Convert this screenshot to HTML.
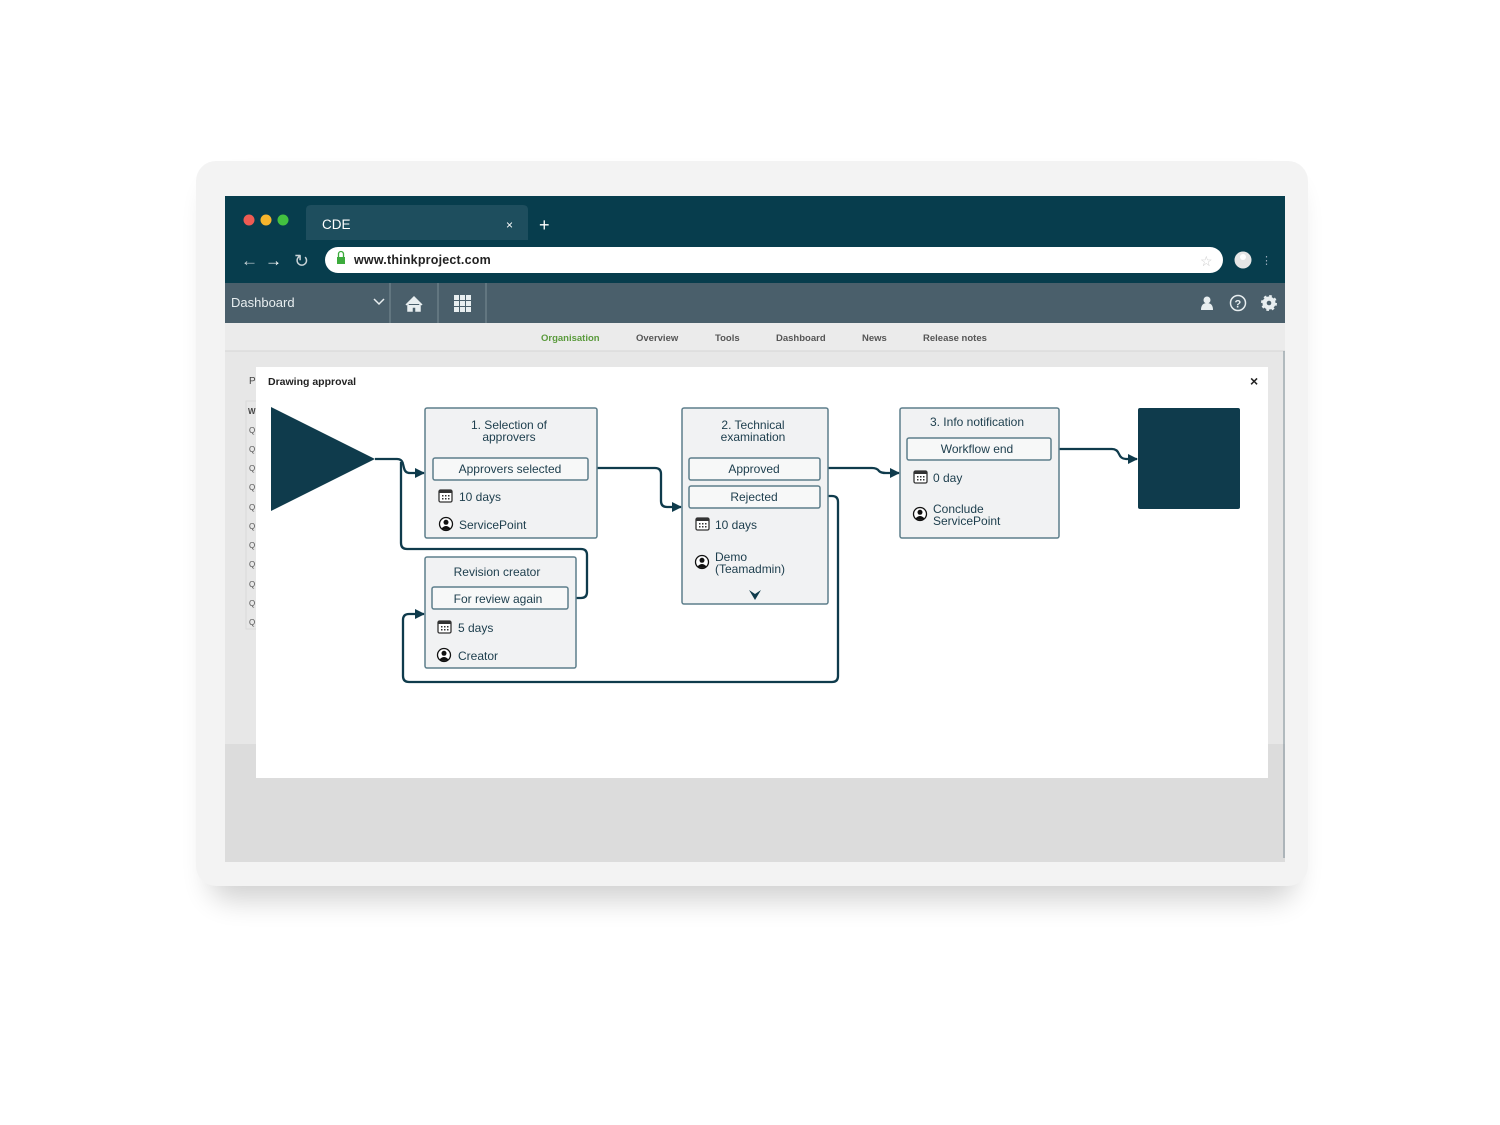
<!DOCTYPE html>
<html><head><meta charset="utf-8"><style>
html,body{margin:0;padding:0;background:#fff;width:1500px;height:1125px;overflow:hidden}
svg{display:block}
text{font-family:"Liberation Sans",sans-serif}
</style></head><body>
<svg width="1500" height="1125" viewBox="0 0 1500 1125" xmlns="http://www.w3.org/2000/svg">
<defs>
<filter id="sh" x="-10%" y="-10%" width="120%" height="130%"><feGaussianBlur stdDeviation="14"/></filter>
<marker id="ar" markerWidth="10" markerHeight="10" refX="9" refY="5" orient="auto" markerUnits="userSpaceOnUse"><path d="M0,0 L10,5 L0,10 Z" fill="#0f3b4c"/></marker>
<g id="cal"><rect x="0" y="0" width="13" height="12" rx="1.5" fill="#fff" stroke="#333" stroke-width="1.3"/><rect x="0" y="0" width="13" height="3" fill="#333"/><g fill="#333"><rect x="3" y="5" width="1.5" height="1.5"/><rect x="6" y="5" width="1.5" height="1.5"/><rect x="9" y="5" width="1.5" height="1.5"/><rect x="3" y="8" width="1.5" height="1.5"/><rect x="6" y="8" width="1.5" height="1.5"/><rect x="9" y="8" width="1.5" height="1.5"/></g></g>
<g id="usr"><circle cx="7" cy="7" r="6.5" fill="#fff" stroke="#111" stroke-width="1.3"/><circle cx="7" cy="5.3" r="2.5" fill="#111"/><path d="M2.5,11.5 Q7,6.5 11.5,11.5 Q7,14.5 2.5,11.5Z" fill="#111"/></g>
</defs>
<!-- outer frame -->
<rect x="210" y="185" width="1085" height="715" rx="20" fill="#000" opacity="0.18" filter="url(#sh)"/>
<rect x="196" y="161" width="1112" height="725" rx="20" fill="#f3f3f3"/>
<!-- browser -->
<rect x="225" y="196" width="1060" height="666" fill="#e7e7e7"/>
<rect x="225" y="744" width="1060" height="118" fill="#dcdcdc"/>
<rect x="225" y="196" width="1060" height="87" fill="#073d4d"/>
<circle cx="249" cy="220" r="5.5" fill="#ee5b53"/><circle cx="266" cy="220" r="5.5" fill="#f5b52c"/><circle cx="283" cy="220" r="5.5" fill="#43c140"/>
<path d="M306,240 V210 Q306,205 311,205 H523 Q528,205 528,210 V240 Z" fill="#1e4e5e"/>
<text x="322" y="229" font-size="13.5" fill="#fff">CDE</text>
<text x="506" y="229" font-size="12" fill="#fff">×</text>
<text x="539" y="231" font-size="18" fill="#fff">+</text>
<text x="241" y="266" font-size="17" fill="#c9d4d8">←</text><text x="265" y="266" font-size="17" fill="#fff">→</text>
<text x="294" y="267" font-size="18" fill="#c9d4d8">↻</text>
<rect x="325" y="247" width="898" height="26" rx="13" fill="#fff"/>
<rect x="337" y="257" width="8" height="7" fill="#3cab3c"/><path d="M338.5,257 V254 a2.5,2.5 0 0 1 5,0 V257" fill="none" stroke="#3cab3c" stroke-width="1.3"/>
<text x="354" y="264" font-size="12.5" fill="#222" font-weight="bold" letter-spacing="0.2">www.thinkproject.com</text>
<text x="1200" y="266" font-size="14" fill="#ccc">☆</text>
<circle cx="1243" cy="260" r="8.5" fill="#e6e6e6"/><circle cx="1243" cy="257" r="3" fill="#fff"/>
<text x="1261" y="264" font-size="11" fill="#9ab">⋮</text>
<!-- nav -->
<rect x="225" y="283" width="1060" height="40" fill="#4a5f6b"/>
<text x="231" y="307" font-size="13" fill="#e8eef0">Dashboard</text>
<path d="M374,299 l5,5 l5,-5" fill="none" stroke="#e8eef0" stroke-width="1.5"/>
<line x1="390" y1="283" x2="390" y2="323" stroke="#7b8d96"/><line x1="438" y1="283" x2="438" y2="323" stroke="#7b8d96"/><line x1="486" y1="283" x2="486" y2="323" stroke="#7b8d96"/>
<path d="M406,305 L414,297 L422,305 M408,304 V311 H412 V307 H416 V311 H420 V304" fill="#e8eef0" stroke="#e8eef0" stroke-width="1.5"/>
<g fill="#e8eef0"><rect x="454" y="295" width="5" height="5"/><rect x="460" y="295" width="5" height="5"/><rect x="466" y="295" width="5" height="5"/><rect x="454" y="301" width="5" height="5"/><rect x="460" y="301" width="5" height="5"/><rect x="466" y="301" width="5" height="5"/><rect x="454" y="307" width="5" height="5"/><rect x="460" y="307" width="5" height="5"/><rect x="466" y="307" width="5" height="5"/></g>
<circle cx="1207" cy="300" r="3.5" fill="#e8eef0"/><path d="M1201,310 Q1201,303 1207,303 Q1213,303 1213,310Z" fill="#e8eef0"/>
<circle cx="1238" cy="303" r="7.5" fill="none" stroke="#e8eef0" stroke-width="1.5"/><text x="1234.5" y="307.5" font-size="11" fill="#e8eef0" font-weight="bold">?</text>
<circle cx="1269" cy="303" r="6.5" fill="#e8eef0" stroke="#e8eef0" stroke-width="3" stroke-dasharray="2.5 2.6"/><circle cx="1269" cy="303" r="2.3" fill="#4a5f6b"/>
<!-- subnav -->
<rect x="225" y="323" width="1060" height="28" fill="#ebebeb"/>
<line x1="225" y1="351" x2="1285" y2="351" stroke="#d6d6d6"/>
<g font-size="9.5" font-weight="bold" fill="#555"><text x="541" y="341" fill="#5a9a3c">Organisation</text><text x="636" y="341">Overview</text><text x="715" y="341">Tools</text><text x="776" y="341">Dashboard</text><text x="862" y="341">News</text><text x="923" y="341">Release notes</text></g>
<text x="249" y="384" font-size="10" fill="#444">P</text>
<g stroke="#dadada" fill="none"><rect x="246" y="401" width="12" height="228"/></g>
<text x="248" y="414" font-size="8" fill="#444" font-weight="bold">W</text>
<g font-size="8" fill="#555"><text x="249" y="433">Q</text><text x="249" y="452">Q</text><text x="249" y="471">Q</text><text x="249" y="490">Q</text><text x="249" y="510">Q</text><text x="249" y="529">Q</text><text x="249" y="548">Q</text><text x="249" y="567">Q</text><text x="249" y="587">Q</text><text x="249" y="606">Q</text><text x="249" y="625">Q</text></g>
<line x1="1284" y1="351" x2="1284" y2="858" stroke="#7b8d96"/>
<!-- modal -->
<rect x="256" y="367" width="1012" height="411" fill="#fff"/>
<text x="268" y="385" font-size="10.5" font-weight="bold" fill="#222">Drawing approval</text>
<text x="1250" y="386" font-size="14" font-weight="bold" fill="#222">×</text>
<!-- diagram -->
<polygon points="271,407 375,459 271,511" fill="#0f3b4c"/>
<rect x="1138" y="408" width="102" height="101" rx="2" fill="#0f3b4c"/>
<g fill="none" stroke="#0f3b4c" stroke-width="2.3">
<path d="M375,459 H397 Q402,459 403,464 L404,468 Q405,473 410,473 H424" marker-end="url(#ar)"/>
<path d="M401,462 V543 Q401,549 407,549 H581 Q587,549 587,555 V592 Q587,598 581,598 H568"/>
<path d="M588,468 H655 Q661,468 661,474 V501 Q661,507 667,507 H681" marker-end="url(#ar)"/>
<path d="M820,468 H872 Q877,468 879,471 Q881,473 886,473 H899" marker-end="url(#ar)"/>
<path d="M820,496 H832 Q838,496 838,502 V676 Q838,682 832,682 H409 Q403,682 403,676 V620 Q403,614 409,614 H424" marker-end="url(#ar)"/>
<path d="M1051,449 H1112 Q1117,449 1119,454 Q1121,459 1126,459 H1137" marker-end="url(#ar)"/>
</g>
<g fill="#f1f2f3" stroke="#5d7e8b" stroke-width="1.5">
<rect x="425" y="408" width="172" height="130" rx="2"/>
<rect x="682" y="408" width="146" height="196" rx="2"/>
<rect x="900" y="408" width="159" height="130" rx="2"/>
<rect x="425" y="557" width="151" height="111" rx="2"/>
</g>
<g fill="#f7f8f8" stroke="#5d7e8b" stroke-width="1.5">
<rect x="433" y="458" width="155" height="22" rx="2"/>
<rect x="689" y="458" width="131" height="22" rx="2"/>
<rect x="689" y="486" width="131" height="22" rx="2"/>
<rect x="907" y="438" width="144" height="22" rx="2"/>
<rect x="432" y="587" width="136" height="22" rx="2"/>
</g>
<g font-size="12" fill="#1c3d4c" text-anchor="middle">
<text x="509" y="429">1. Selection of</text><text x="509" y="441">approvers</text>
<text x="510" y="473">Approvers selected</text>
<text x="753" y="429">2. Technical</text><text x="753" y="441">examination</text>
<text x="754" y="473">Approved</text><text x="754" y="501">Rejected</text>
<text x="977" y="426">3. Info notification</text>
<text x="977" y="453">Workflow end</text>
<text x="497" y="576">Revision creator</text>
<text x="498" y="603">For review again</text>
</g>
<g font-size="12" fill="#1c3d4c">
<use href="#cal" x="439" y="490"/><text x="459" y="501">10 days</text>
<use href="#usr" x="439" y="517"/><text x="459" y="529">ServicePoint</text>
<use href="#cal" x="696" y="518"/><text x="715" y="529">10 days</text>
<use href="#usr" x="695" y="555"/><text x="715" y="561">Demo</text><text x="715" y="573">(Teamadmin)</text>
<use href="#cal" x="914" y="471"/><text x="933" y="482">0 day</text>
<use href="#usr" x="913" y="507"/><text x="933" y="513">Conclude</text><text x="933" y="525">ServicePoint</text>
<use href="#cal" x="438" y="621"/><text x="458" y="632">5 days</text>
<use href="#usr" x="437" y="648"/><text x="458" y="660">Creator</text>
</g>
<path d="M749,590 L755,600 L761,590 L755,594Z" fill="#0f3b4c"/>
</svg>
</body></html>
